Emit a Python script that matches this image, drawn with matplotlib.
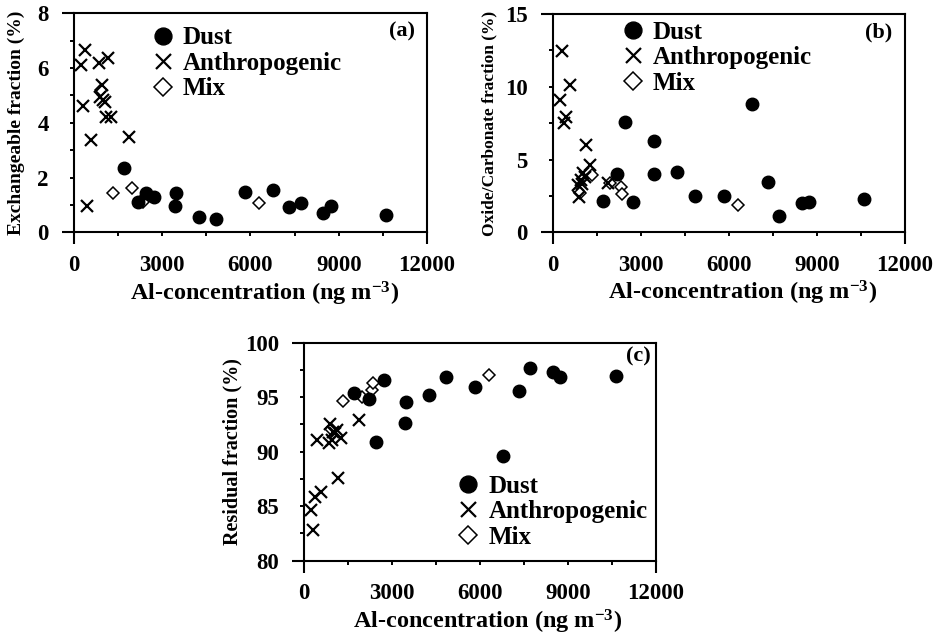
import matplotlib
matplotlib.use('Agg')
import matplotlib.pyplot as plt
from matplotlib.lines import Line2D
from matplotlib.ticker import MultipleLocator

plt.rcParams['font.family'] = 'Liberation Serif'
plt.rcParams['font.weight'] = 'bold'
plt.rcParams['mathtext.fontset'] = 'custom'
plt.rcParams['mathtext.rm'] = 'Liberation Serif:bold'
plt.rcParams['mathtext.bf'] = 'Liberation Serif:bold'
plt.rcParams['mathtext.it'] = 'Liberation Serif:bold:italic'

# Al concentration (ng m-3) of each sample, by source type
dust_al = [1710, 2200, 2470, 2740, 3440, 3460, 4250, 4850, 5820, 6780, 7320, 7710, 8480, 8730, 10620]
anth_al = [305, 250, 370, 580, 1150, 450, 1890, 890, 850, 1270, 960, 1050, 1110, 1000]
mix_al = [920, 1325, 1970, 2330, 2350, 6300]

# exchangeable fraction (%)
dust_exch = [2.36, 1.10, 1.45, 1.30, 0.96, 1.42, 0.55, 0.47, 1.48, 1.55, 0.94, 1.08, 0.69, 0.96, 0.63]
anth_exch = [4.61, 6.11, 6.66, 3.37, 6.36, 0.96, 3.49, 4.95, 6.17, 4.20, 5.38, 4.77, 4.20, 4.85]
mix_exch = [5.20, 1.45, 1.61, 1.18, 1.10, 1.06]

# oxide/carbonate fraction (%)
dust_oxc = [2.17, 4.00, 7.60, 2.10, 6.29, 3.98, 4.17, 2.52, 2.49, 8.80, 3.44, 1.12, 1.99, 2.10, 2.29]
anth_oxc = [12.48, 9.09, 7.50, 10.12, 6.00, 7.90, 3.41, 2.45, 3.25, 4.62, 3.60, 4.05, 3.80, 3.30]
mix_oxc = [2.72, 3.94, 3.37, 3.13, 2.63, 1.88]

# residual fraction (%)
dust_res = [95.41, 94.81, 90.86, 96.58, 92.66, 94.59, 95.20, 96.88, 95.96, 89.60, 95.57, 97.71, 97.28, 96.88, 96.94]
anth_res = [82.82, 84.65, 85.87, 86.33, 87.56, 91.04, 92.95, 92.50, 90.77, 91.23, 91.07, 91.69, 92.00, 91.85]
mix_res = [92.05, 94.65, 95.05, 95.66, 96.27, 97.04]

xlab = r'Al-concentration (ng m$^{\mathrm{-3}}$)'


def panel(ax, yd, ya, ym, ylim, ymajor, yminor, ylabel, ylsize, tag, tagpos, legpos, ylx, xlx):
    ax.plot(mix_al, ym, 'D', ms=6.5, mfc='white', mec='black', mew=1.1, ls='none')
    ax.plot(anth_al, ya, 'x', ms=8, mec='black', mew=1.6, ls='none')
    ax.plot(dust_al, yd, 'o', ms=9, mfc='black', mec='black', ls='none')

    ax.set_xlim(0, 12000)
    ax.set_ylim(*ylim)
    ax.xaxis.set_major_locator(MultipleLocator(3000))
    ax.xaxis.set_minor_locator(MultipleLocator(1500))
    ax.yaxis.set_major_locator(MultipleLocator(ymajor))
    ax.yaxis.set_minor_locator(MultipleLocator(yminor))
    ax.tick_params(which='both', direction='out', length=3, width=1.4, labelsize=16.5)
    ax.tick_params(axis='y', pad=15)
    ax.tick_params(axis='x', pad=13)
    for s in ax.spines.values():
        s.set_linewidth(1.5)

    # long end ticks: the frame lines run past the axis corners
    bb = ax.get_position()
    ex = 12 / (bb.width * 941)
    ey = 12 / (bb.height * 636)
    kw = dict(transform=ax.transAxes, clip_on=False, color='black', lw=1.5, solid_capstyle='butt')
    ax.plot([-ex, 0], [0, 0], **kw)
    ax.plot([-ex, 0], [1, 1], **kw)
    ax.plot([0, 0], [-ey, 0], **kw)
    ax.plot([1, 1], [-ey, 0], **kw)

    ax.set_xlabel(xlab, fontsize=17.5, fontweight='bold')
    ax.xaxis.set_label_coords(xlx, -0.215)
    ax.set_ylabel(ylabel, fontsize=ylsize, fontweight='bold')
    ax.yaxis.set_label_coords(ylx, 0.5)
    ax.text(tagpos[0], tagpos[1], tag, transform=ax.transAxes, fontsize=16,
            fontweight='bold', ha='right', va='center')

    handles = [
        Line2D([], [], marker='o', ls='none', ms=9, mfc='black', mec='black'),
        Line2D([], [], marker='x', ls='none', ms=8, mec='black', mew=1.6),
        Line2D([], [], marker='D', ls='none', ms=6.5, mfc='white', mec='black', mew=1.1),
    ]
    ax.legend(handles, ['Dust', 'Anthropogenic', 'Mix'], loc='upper left',
              bbox_to_anchor=legpos, frameon=False, fontsize=18, markerscale=1.35,
              handlelength=0.9, handletextpad=0.35, labelspacing=0.1,
              borderpad=0, borderaxespad=0)


fig = plt.figure(figsize=(9.41, 6.36), dpi=100)
ax_a = fig.add_axes([0.0783, 0.6347, 0.3755, 0.3443])
ax_b = fig.add_axes([0.5873, 0.6347, 0.3744, 0.3432])
ax_c = fig.add_axes([0.3231, 0.1184, 0.3741, 0.3428])

panel(ax_a, dust_exch, anth_exch, mix_exch, (0, 8), 2, 1,
      'Exchangeable fraction (%)', 14, '(a)', (0.965, 0.915), (0.22, 0.94), -0.138, 0.54)
panel(ax_b, dust_oxc, anth_oxc, mix_oxc, (0, 15), 5, 2.5,
      'Oxide/Carbonate fraction (%)', 12.5, '(b)', (0.965, 0.915), (0.195, 0.97), -0.158, 0.54)
panel(ax_c, dust_res, anth_res, mix_res, (80, 100), 5, 2.5,
      'Residual fraction (%)', 14.5, '(c)', (0.985, 0.935), (0.435, 0.395), -0.176, 0.52)

fig.savefig('out.png', dpi=100)
